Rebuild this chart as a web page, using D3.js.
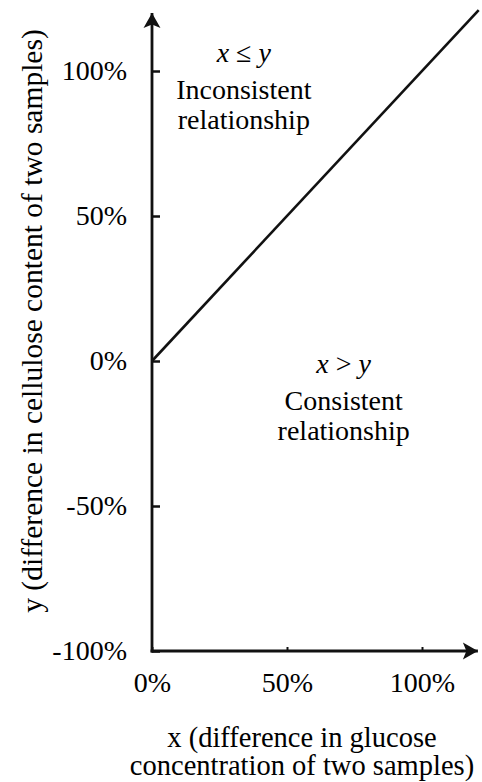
<!DOCTYPE html>
<html>
<head>
<meta charset="utf-8">
<script src="https://cdn.jsdelivr.net/npm/d3@7"></script>
<style>
  body { margin: 0; background: #fff; }
  svg { display: block; }
  text { font-family: "Liberation Serif", "Times New Roman", serif; fill: #000; }
</style>
</head>
<body>
<svg width="482" height="782"></svg>
<script>
// tick values and labels
const xTicks = [0, 0.5, 1];
const xTickLabels = ["0%", "50%", "100%"];
const yTicks = [-1, -0.5, 0, 0.5, 1];
const yTickLabels = ["-100%", "-50%", "0%", "50%", "100%"];

// how far the arrows reach
const xAxisEnd = 1.207;
const yAxisEnd = 1.2;

// the y = x boundary
const lineX = [0, 1.21];
const lineY = [0, 1.21];

// region labels
const regionLabels = [
  { x: 0.34, y: 1.03, lines: ["x ≤ y", "Inconsistent", "relationship"] },
  { x: 0.71, y: -0.04, lines: ["x > y", "Consistent", "relationship"] }
];

const xTitle = ["x (difference in glucose", "concentration of two samples)"];
const yTitle = "y (difference in cellulose content of two samples)";

const ink = "#111";
const fontSize = 28;

const svg = d3.select("svg");

const xScale = d3.scaleLinear().domain([0, 1]).range([152, 422]);
const yScale = d3.scaleLinear().domain([-1, 1]).range([651, 71]);

// arrowhead
svg.append("defs")
   .append("marker")
   .attr("id", "arrow")
   .attr("markerUnits", "userSpaceOnUse")
   .attr("viewBox", "-16 -10 18 20")
   .attr("refX", 0)
   .attr("refY", 0)
   .attr("markerWidth", 18)
   .attr("markerHeight", 20)
   .attr("orient", "auto")
   .append("path")
   .attr("d", "M0,0 L-15,-8.5 L-11.5,0 L-15,8.5 Z")
   .attr("fill", ink);

// y axis
const yAxis = svg.append("g")
   .attr("transform", `translate(${xScale(0)},0)`)
   .call(d3.axisLeft(yScale)
           .tickValues(yTicks)
           .tickFormat((d, i) => yTickLabels[i])
           .tickSizeInner(-8)
           .tickSizeOuter(0)
           .tickPadding(25));
yAxis.select(".domain").remove();
yAxis.selectAll("line").attr("stroke", ink).attr("stroke-width", 2.5);
yAxis.selectAll("text")
     .attr("font-size", fontSize)
     .attr("font-family", "Liberation Serif")
     .attr("fill", "#000");

// x axis
const xAxis = svg.append("g")
   .attr("transform", `translate(0,${yScale(-1)})`)
   .call(d3.axisBottom(xScale)
           .tickValues(xTicks)
           .tickFormat((d, i) => xTickLabels[i])
           .tickSizeInner(-4)
           .tickSizeOuter(0)
           .tickPadding(21));
xAxis.select(".domain").remove();
xAxis.selectAll("line").attr("stroke", ink).attr("stroke-width", 2);
xAxis.selectAll("text")
     .attr("font-size", fontSize)
     .attr("font-family", "Liberation Serif")
     .attr("fill", "#000");

// axis lines with arrows
svg.append("line")
   .attr("x1", xScale(0)).attr("y1", yScale(-1) + 1.5)
   .attr("x2", xScale(0)).attr("y2", yScale(yAxisEnd))
   .attr("stroke", ink)
   .attr("stroke-width", 2.8)
   .attr("marker-end", "url(#arrow)");

svg.append("line")
   .attr("x1", xScale(0) - 1.4).attr("y1", yScale(-1))
   .attr("x2", xScale(xAxisEnd)).attr("y2", yScale(-1))
   .attr("stroke", ink)
   .attr("stroke-width", 2.8)
   .attr("marker-end", "url(#arrow)");

// y = x line
const line = d3.line()
   .x(d => xScale(d[0]))
   .y(d => yScale(d[1]));

svg.append("path")
   .datum(lineX.map((d, i) => [d, lineY[i]]))
   .attr("d", line)
   .attr("fill", "none")
   .attr("stroke", ink)
   .attr("stroke-width", 2.6);

// region labels
regionLabels.forEach(r => {
  const t = svg.append("text")
     .attr("x", xScale(r.x))
     .attr("y", yScale(r.y))
     .attr("text-anchor", "middle")
     .attr("font-size", fontSize);
  r.lines.forEach((s, i) => {
    const span = t.append("tspan")
       .attr("x", xScale(r.x))
       .attr("dy", i === 0 ? 0 : (i === 1 ? 37 : 30));
    if (i === 0) {
      const parts = s.split(" ");
      span.append("tspan").attr("font-style", "italic").text(parts[0]);
      span.append("tspan").text(" " + parts[1] + " ");
      span.append("tspan").attr("font-style", "italic").text(parts[2]);
    } else {
      span.text(s);
    }
  });
});

// axis titles
svg.append("text")
   .attr("transform", `translate(42,321) rotate(-90)`)
   .attr("text-anchor", "middle")
   .attr("font-size", 29.5)
   .text(yTitle);

svg.append("text")
   .attr("text-anchor", "middle")
   .attr("font-size", 28.5)
   .selectAll("tspan")
   .data(xTitle)
   .enter()
   .append("tspan")
   .attr("x", 302)
   .attr("y", (d, i) => 747 + i * 28)
   .text(d => d);
</script>
</body>
</html>
